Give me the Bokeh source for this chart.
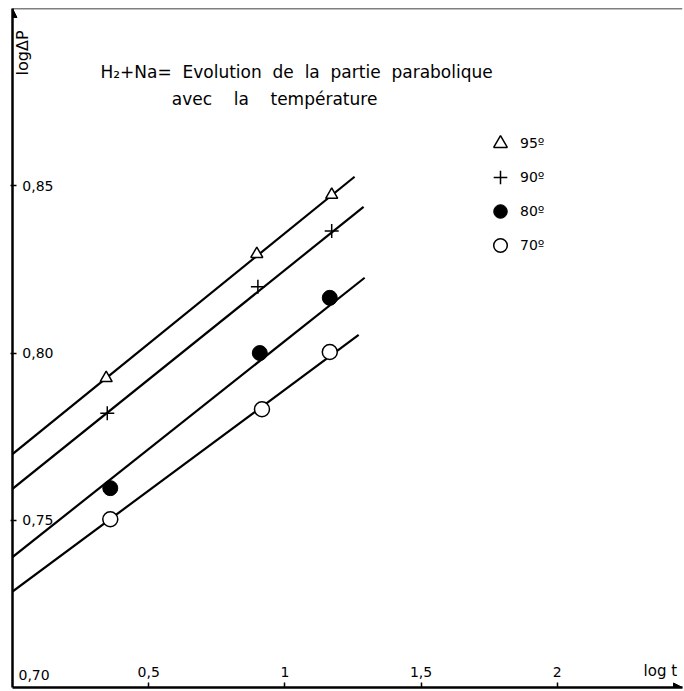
import math
from bokeh.plotting import figure
from bokeh.models import (FixedTicker, Legend, LegendItem, Arrow, NormalHead,
                          Span)
from bokeh.core.properties import value
from bokeh.embed import file_html
from bokeh.resources import INLINE

# ---------------- data ----------------
series_labels = ["95º", "90º", "80º", "70º"]

x95 = [0.344, 0.897, 1.172]
y95 = [0.7925, 0.8296, 0.8473]
x90 = [0.348, 0.901, 1.172]
y90 = [0.7820, 0.8198, 0.8365]
x80 = [0.359, 0.908, 1.165]
y80 = [0.7596, 0.8000, 0.8165]
x70 = [0.359, 0.916, 1.165]
y70 = [0.7503, 0.7832, 0.8003]

# fitted straight lines (start / end) for 95, 90, 80, 70
line_x0 = [0.0, 0.0, 0.0, 0.0]
line_y0 = [0.7698, 0.7594, 0.7390, 0.7287]
line_x1 = [1.256, 1.289, 1.293, 1.271]
line_y1 = [0.8527, 0.8437, 0.8225, 0.8054]

x_ticks = [0.5, 1.0, 1.5, 2.0]
x_tick_labels = ["0,5", "1", "1,5", "2"]
y_ticks = [0.75, 0.80, 0.85]
y_tick_labels = ["0,75", "0,80", "0,85"]
origin_label = "0,70"

x_min, x_max = 0.0, 2.46
y_min, y_max = 0.70, 0.903

NB = "\u00a0"
title_lines = ["H₂+Na=" + NB + " Evolution" + NB + " de" + NB + " la" + NB
               + " partie" + NB + " parabolique",
               "avec" + NB * 3 + " la" + NB * 3 + " température"]
title_x = [0.323, 0.585]
title_y = [0.8839, 0.8760]

FONT = "DejaVu Sans"

p = figure(width=684, height=691, x_range=(x_min, x_max), y_range=(y_min, y_max),
           output_backend="svg", toolbar_location=None,
           min_border_left=12, min_border_right=2, min_border_top=8,
           min_border_bottom=4, background_fill_color="white",
           border_fill_color="white", outline_line_color=None)
p.grid.visible = False

# axes
p.xaxis.ticker = FixedTicker(ticks=x_ticks)
p.xaxis.major_label_overrides = dict(zip(x_ticks, x_tick_labels))
p.yaxis.ticker = FixedTicker(ticks=y_ticks)
p.yaxis.major_label_overrides = dict(zip(y_ticks, y_tick_labels))
for ax in (p.xaxis, p.yaxis):
    ax.axis_line_width = 2.5
    ax.axis_line_color = "black"
    ax.major_tick_line_color = "black"
    ax.major_tick_line_width = 1.5
    ax.minor_tick_line_color = None
    ax.major_label_text_font = FONT
    ax.major_label_text_font_size = "14px"
    ax.major_label_text_color = "black"
p.xaxis.major_tick_in = 5
p.xaxis.major_tick_out = 0
p.xaxis.major_label_standoff = -21
p.yaxis.major_tick_in = 4
p.yaxis.major_tick_out = 2
p.yaxis.major_label_standoff = -43

# arrow heads on the axes
p.add_layout(Arrow(end=NormalHead(size=9, fill_color="black", line_color="black"),
                   x_start=0, y_start=y_min, x_end=0, y_end=y_max,
                   line_alpha=0))
p.add_layout(Arrow(end=NormalHead(size=9, fill_color="black", line_color="black"),
                   x_start=x_min, y_start=y_min, x_end=x_max, y_end=y_min,
                   line_alpha=0))
p.add_layout(Span(location=y_max, dimension="width", line_color="black",
                  line_width=1.5))

# straight lines
p.segment(x0=line_x0, y0=line_y0, x1=line_x1, y1=line_y1,
          line_color="black", line_width=2.2)

# points
r95 = p.scatter(x95, y95, marker="triangle", size=12, fill_color="white",
                line_color="black", line_width=1.5)
r90 = p.scatter(x90, y90, marker="cross", size=14, line_color="black",
                line_width=1.5)
r80 = p.scatter(x80, y80, marker="circle", size=15, fill_color="black",
                line_color="black")
r70 = p.scatter(x70, y70, marker="circle", size=15, fill_color="white",
                line_color="black", line_width=1.5)

legend = Legend(items=[LegendItem(label=lab, renderers=[r])
                       for lab, r in zip(series_labels, [r95, r90, r80, r70])],
                location=(471, 425), glyph_width=34, glyph_height=34,
                label_height=20, spacing=0, padding=0, margin=0,
                label_standoff=3, background_fill_alpha=0,
                border_line_alpha=0, label_text_font=FONT,
                label_text_font_size="14px", label_text_color="black")
p.add_layout(legend)

# texts
p.text(x=title_x, y=title_y, text=title_lines, text_font=value(FONT),
       text_font_size="17px", text_align="left", text_baseline="middle",
       text_color="black")
p.text(x=[0.037], y=[0.8830], text=["logΔP"], angle=math.pi / 2,
       text_font=value(FONT), text_font_size="16px", text_align="left",
       text_baseline="middle", text_color="black")
p.text(x=[2.44], y=[y_min], text=["log t"], y_offset=-17,
       text_font=value(FONT), text_font_size="15px", text_align="right",
       text_baseline="alphabetic", text_color="black")
p.text(x=[0.0], y=[y_min], text=[origin_label], x_offset=6, y_offset=-13,
       text_font=value(FONT), text_font_size="14px", text_align="left",
       text_baseline="alphabetic", text_color="black")

open("out.html", "w").write(file_html(p, INLINE))
